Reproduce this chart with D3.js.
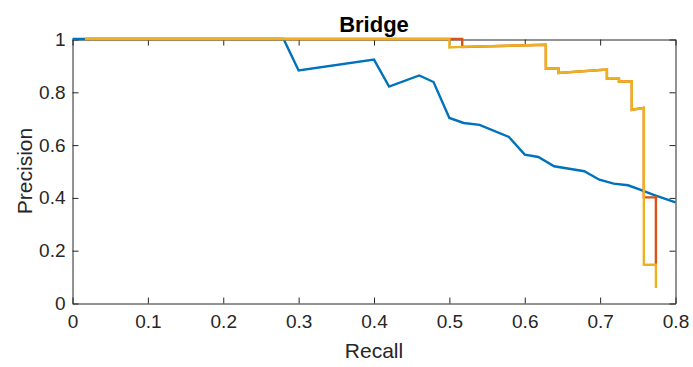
<!DOCTYPE html>
<html>
<head>
<meta charset="utf-8">
<script src="https://cdn.jsdelivr.net/npm/d3@7"></script>
<style>
  html, body { margin: 0; padding: 0; background: #fff; }
  svg { display: block; font-family: "Liberation Sans", Arial, Helvetica, sans-serif; }
</style>
</head>
<body>
<svg id="chart" width="693" height="367"></svg>
<script>
// Precision-recall curves for the "Bridge" class
const xTicks = [0, 0.1, 0.2, 0.3, 0.4, 0.5, 0.6, 0.7, 0.8];
const yTicks = [0, 0.2, 0.4, 0.6, 0.8, 1];

const blueRecall    = [0, 0.017, 0.28, 0.30, 0.40, 0.42, 0.46, 0.479, 0.50, 0.519, 0.54, 0.579, 0.60, 0.618, 0.639, 0.679, 0.699, 0.718, 0.737, 0.753, 0.771, 0.80];
const bluePrecision = [1, 1, 1, 0.881, 0.922, 0.820, 0.862, 0.837, 0.701, 0.682, 0.675, 0.629, 0.562, 0.553, 0.518, 0.499, 0.467, 0.452, 0.446, 0.429, 0.410, 0.381];

const redRecall    = [0.0165, 0.517, 0.517, 0.628, 0.628, 0.645, 0.645, 0.709, 0.709, 0.725, 0.725, 0.742, 0.742, 0.758, 0.758, 0.774, 0.774];
const redPrecision = [1, 1, 0.970, 0.978, 0.888, 0.888, 0.871, 0.884, 0.850, 0.850, 0.839, 0.839, 0.732, 0.739, 0.400, 0.400, 0.145];

const orangeRecall    = [0.0165, 0.500, 0.500, 0.517, 0.628, 0.628, 0.645, 0.645, 0.709, 0.709, 0.725, 0.725, 0.742, 0.742, 0.758, 0.758, 0.774, 0.774];
const orangePrecision = [1, 1, 0.968, 0.970, 0.978, 0.888, 0.888, 0.871, 0.884, 0.850, 0.850, 0.839, 0.839, 0.732, 0.739, 0.145, 0.145, 0.057];

const series = [
  { recall: blueRecall,   precision: bluePrecision,   color: "#0072BD" },
  { recall: redRecall,    precision: redPrecision,    color: "#D95319" },
  { recall: orangeRecall, precision: orangePrecision, color: "#EDB120" }
];

const plotLeft = 72.5, plotRight = 675.5, plotTop = 39, plotBottom = 303;
const svg = d3.select("#chart");
const x = d3.scaleLinear().domain([0, 0.8]).range([plotLeft, plotRight]);
const y = d3.scaleLinear().domain([0, 1]).range([plotBottom, plotTop]);

const axisColor = "#262626";
const tickFont = 19;
const labelFont = 21;

// Axes box with inward ticks (drawn beneath the curves)
function styleAxis(g) {
  g.selectAll(".domain").attr("stroke", axisColor).attr("stroke-width", 1);
  g.selectAll(".tick line").attr("stroke", axisColor).attr("stroke-width", 1);
  g.selectAll(".tick text").attr("fill", axisColor).attr("font-size", tickFont);
}
const tl = 6;
svg.append("g").attr("transform", `translate(0,${plotBottom + 0.5})`)
  .call(d3.axisBottom(x).tickValues(xTicks).tickFormat(d3.format("~g")).tickSizeInner(-tl).tickSizeOuter(0).tickPadding(11))
  .call(styleAxis);
svg.append("g").attr("transform", `translate(${plotLeft},0.5)`)
  .call(d3.axisLeft(y).tickValues(yTicks).tickFormat(d3.format("~g")).tickSizeInner(-tl).tickSizeOuter(0).tickPadding(7))
  .call(styleAxis);
svg.append("g").attr("transform", `translate(0,${plotTop + 0.5})`)
  .call(d3.axisTop(x).tickValues(xTicks).tickFormat("").tickSizeInner(-tl).tickSizeOuter(0))
  .call(styleAxis);
svg.append("g").attr("transform", `translate(${plotRight},0.5)`)
  .call(d3.axisRight(y).tickValues(yTicks).tickFormat("").tickSizeInner(-tl).tickSizeOuter(0))
  .call(styleAxis);

// Curves
const line = d3.line().x(d => x(d[0])).y(d => y(d[1]));
series.forEach(s => {
  const pts = s.recall.map((r, i) => [r, s.precision[i]]);
  svg.append("path")
    .datum(pts)
    .attr("d", line)
    .attr("fill", "none")
    .attr("stroke", s.color)
    .attr("stroke-width", 2.4)
    .attr("stroke-linejoin", "miter");
});

// Title and axis labels
svg.append("text")
  .attr("x", 374).attr("y", 31.5)
  .attr("text-anchor", "middle").attr("font-weight", "bold")
  .attr("font-size", 22).attr("fill", "#000")
  .text("Bridge");
svg.append("text")
  .attr("x", 374).attr("y", 357.5)
  .attr("text-anchor", "middle").attr("font-size", labelFont).attr("fill", axisColor)
  .text("Recall");
svg.append("text")
  .attr("transform", `translate(32,${(plotTop + plotBottom) / 2}) rotate(-90)`)
  .attr("text-anchor", "middle").attr("font-size", labelFont).attr("fill", axisColor)
  .text("Precision");
</script>
</body>
</html>
